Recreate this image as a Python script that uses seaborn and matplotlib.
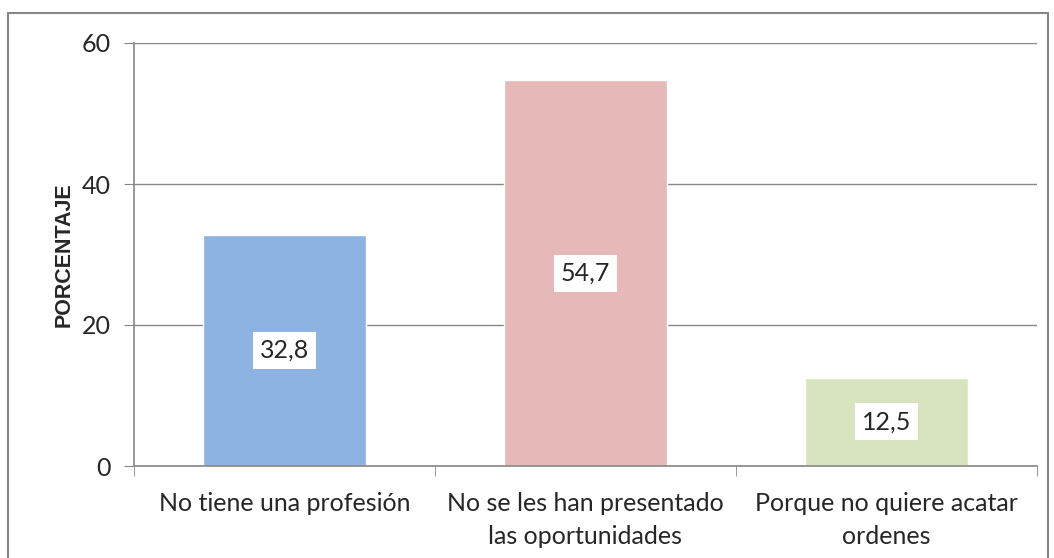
import matplotlib
matplotlib.use("Agg")
import matplotlib.pyplot as plt
import matplotlib.patches as patches
import seaborn as sns
import pandas as pd

# Data
categorias = ["No tiene una profesión", "No se les han presentado\nlas oportunidades",
              "Porque no quiere acatar\nordenes"]
porcentajes = [32.8, 54.7, 12.5]
etiquetas = ["32,8", "54,7", "12,5"]
colores = ["#8DB3E2", "#E6B9B8", "#D7E4BD"]

df = pd.DataFrame({"categoria": categorias, "porcentaje": porcentajes})

sns.set_style("white")
plt.rcParams["font.family"] = ["Lato", "DejaVu Sans"]

fig = plt.figure(figsize=(10.54, 5.58), dpi=100)
ax = fig.add_axes([134 / 1054, 92 / 558, 903 / 1054, 423 / 558])

sns.barplot(data=df, x="categoria", y="porcentaje", hue="categoria",
            palette=colores, width=0.54, legend=False, ax=ax, saturation=1)

ax.set_ylim(0, 60)
ax.set_xlim(-0.5, 2.5)
ax.set_yticks([0, 20, 40, 60])
ax.yaxis.grid(True, color="#868686", linewidth=1)
ax.set_axisbelow(True)

for s in ["top", "right"]:
    ax.spines[s].set_visible(False)
for s in ["left", "bottom"]:
    ax.spines[s].set_color("#868686")
    ax.spines[s].set_linewidth(1.2)

ax.tick_params(axis="y", length=7, color="#868686", labelsize=18, pad=10, left=True)
ax.tick_params(axis="x", which="major", length=0, labelsize=18, pad=19)
ax.set_xticks([-0.5, 0.5, 1.5, 2.5], minor=True)
ax.tick_params(axis="x", which="minor", length=7, color="#868686", bottom=True)
for lbl in ax.get_xticklabels():
    lbl.set_linespacing(1.5)

ax.set_xlabel("")
ax.set_ylabel("PORCENTAJE", fontsize=15.5, fontweight="bold",
              family="Liberation Sans", labelpad=5)

# value labels in white boxes at mid-bar
for i, (v, t) in enumerate(zip(porcentajes, etiquetas)):
    ax.text(i, v / 2, t, ha="center", va="center", fontsize=18,
            bbox=dict(facecolor="white", edgecolor="none", pad=5))

# outer chart border
fig.patches.append(patches.Rectangle((8 / 1054, -0.02), 1040 / 1054, 0.02 + 1 - 13 / 558,
                                     transform=fig.transFigure, fill=False,
                                     edgecolor="#868686", linewidth=1.5))

fig.savefig("out.png", dpi=100)
